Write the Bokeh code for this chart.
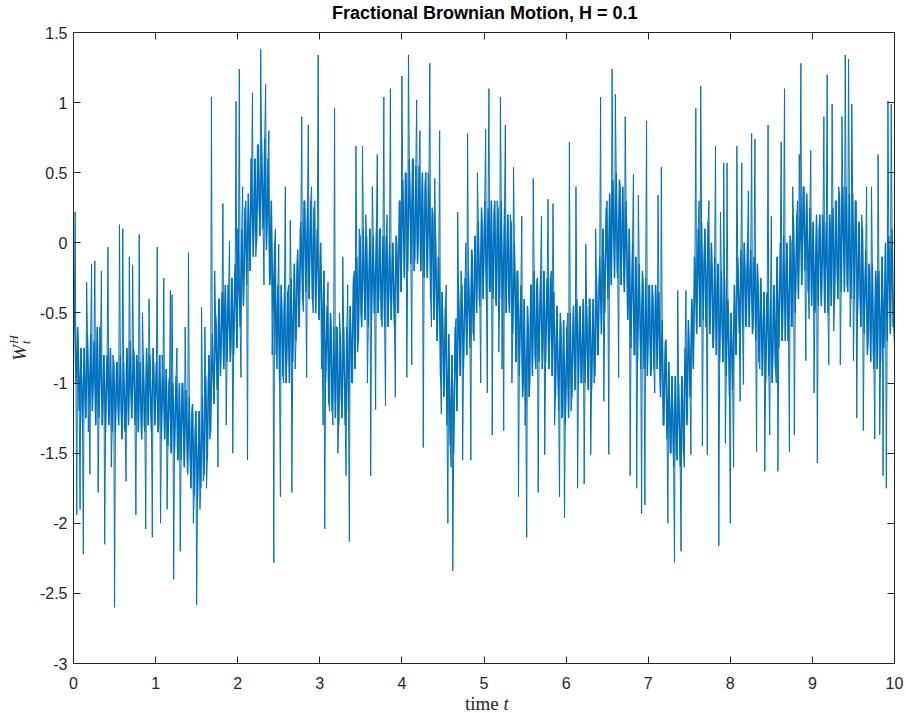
import numpy as np
from bokeh.plotting import figure
from bokeh.models import FixedTicker, LinearAxis, ColumnDataSource, Range1d, Div
from bokeh.layouts import row, column
from bokeh.embed import file_html
from bokeh.resources import INLINE

# ---------------- data ----------------
title_text = "Fractional Brownian Motion, H = 0.1"
x_label_word = "time"
x_label_var = "t"
y_label_base, y_label_sub, y_label_sup = "W", "t", "H"
x_ticks = [0, 1, 2, 3, 4, 5, 6, 7, 8, 9, 10]
x_tick_labels = ["0", "1", "2", "3", "4", "5", "6", "7", "8", "9", "10"]
y_ticks = [-3, -2.5, -2, -1.5, -1, -0.5, 0, 0.5, 1, 1.5]
y_tick_labels = ["-3", "-2.5", "-2", "-1.5", "-1", "-0.5", "0", "0.5", "1", "1.5"]

# W_t^H at t = 0, 0.02, 0.04, ... (one row per unit of time; carries the spikes)
w_t0 = [-0.25, 0.22, -1.94, -0.75, -1.9,  -1.0, -2.22, -1.1, -0.28, -1.35,
        -1.65, -0.15, -0.95, -0.13, -1.0,  -1.78, -0.6, -0.2, -1.1, -2.15,
        -0.9, -0.03, -1.2, -1.6, -0.8,     -2.6, -0.9, -1.1, 0.13, -1.2,
        0.1, -1.3, -1.7, -0.9, -0.1,       -1.1, -0.16, -0.8, -1.94, -0.9,
        0.06, -1.2, -0.5, -1.3, -2.04,     -1.0, -0.4, -1.2, -2.1, -0.9]
w_t1 = [-1.1, -0.03, -1.3, -2.0, -0.8,    -0.25, -1.2, -1.9, -1.0, -0.34,
        -0.37, -2.4, -1.1, -0.75, -1.5,    -2.2, -1.0, -1.4, -0.6, -1.3,
        -0.07, -1.5, -1.2, -2.0, -1.4,     -2.58, -1.5, -1.9, -0.46, -1.7,
        -0.6, -1.75, -1.0, -1.4, 1.04,     -0.9, -0.2, -0.6, -1.6, -0.4,
        -0.7, 0.28, -0.5, -1.3, -0.3,      0.01, -0.7, -1.5, -0.3, 1.01]
w_t2 = [0.1, 1.24, -0.96, 0.4, -0.2,      0.3, -1.55, 0.0, 0.6, 1.07,
        0.2, -0.1, 0.7, 0.3, 1.38,         0.1, -0.3, 1.13, 0.2, 0.8,
        -0.2, -0.8, -2.28, 0.1, -0.9,      -0.01, -1.81, -0.5, -1.0, 0.4,
        -0.8, -0.3, 0.16, -1.78, -0.5,     -0.9, -0.2, -0.6, 0.1, 0.9,
        -0.49, 0.3, -0.96, 0.84, 0.0,      0.4, -0.5, 0.3, -0.2, 1.34]
w_t3 = [-0.3, -0.9, -1.3, -2.04, -0.7,    -0.28, -1.2, -0.6, -1.3, 0.96,
        -0.6, -1.5, -0.5, -1.1, -0.1,      -0.9, -1.66, -0.3, -2.13, -0.7,
        -1.0, -0.2, 0.69, -0.78, 0.1,      -0.5, 0.69, -0.3, 0.2, -1.0,
        -0.2, -1.66, 0.4, -0.5, -1.19,     0.63, -0.4, 0.1, -0.6, 1.04,
        -1.16, 0.2, -0.4, 1.1, -0.2,       -0.4, -1.1, 0.0, -0.5, 0.3]
w_t4 = [1.19, 0.1, 0.5, -0.96, 1.34,      0.3, -0.87, 0.6, -0.1, 1.02,
        0.0, 0.8, 0.2, -1.46, 0.4,         -0.1, 0.5, 1.28, -0.6, 0.2,
        0.46, -0.5, -0.1, 0.8, -1.22,      -0.6, -1.0, -0.3, -2.0, -1.2,
        -1.6, -2.34, -1.0, -0.54, 0.22,    -0.6, -0.2, -1.55, -0.5, 0.0,
        0.78, -0.4, -1.55, -0.1, -0.7,     -0.2, 0.5, -0.4, -1.0, 0.1]
w_t5 = [0.0, 0.81, -1.07, 1.1, -0.3,      -1.37, 0.2, -0.4, 0.3, -0.78,
        1.04, -0.9, -1.34, 0.84, -0.1,     -0.4, 0.2, -1.0, 0.54, -0.3,
        -0.2, -1.81, -0.5, 0.19, -1.0,     -1.3, -2.1, -0.6, -1.0, -0.3,
        0.46, -0.8, -0.3, -1.78, -0.5,     0.19, -0.7, -1.51, -0.4, 0.31,
        -0.7, -0.2, 0.28, -1.3, -0.6,      -0.9, -1.81, -0.6, -1.2, -1.96]
w_t6 = [-1.0, -0.5, 0.72, -1.2, -0.7,     -0.9, 0.4, -1.75, -0.5, -1.0,
        -0.6, -1.72, -0.01, -0.9, -0.4,    -1.51, -0.6, -1.0, 0.1, -0.8,
        -0.3, 1.04, -0.2, -1.13, 0.0,      0.3, -1.51, 0.0, 1.24, 0.2,
        1.06, -0.2, -0.96, 0.4, 0.0,       -0.2, 0.9, 0.1, -0.4, -1.66,
        -0.3, 0.49, -0.8, -1.75, 0.34,     -0.5, -1.93, -0.3, -1.87, 0.87]
w_t7 = [-0.6, -0.31, -0.9, -0.4, -1.07,   -0.5, 0.34, -0.9, 0.54, -1.3,
        -0.9, -0.69, -2.0, -1.1, -1.5,     -1.2, -2.28, -1.5, -0.34, -1.3,
        -2.2, -1.0, -1.6, -0.34, -1.2,     -0.8, -1.51, -0.5, -0.1, 0.96,
        -0.2, 0.3, 1.12, -1.45, -0.1,      -0.6, -1.51, 0.3, -0.5, -0.2,
        -0.7, 0.69, -0.3, -2.16, 0.22,     -0.6, 0.57, -1.43, 0.57, -0.5]
w_t8 = [-2.0, -0.8, -1.6, -0.6, 0.69,     -0.3, -1.13, 0.57, -1.01, -0.2,
        -0.5, 0.37, -0.2, 0.78, -0.6,      0.74, -1.49, -0.3, -0.9, -0.4,
        -0.6, -1.63, -0.4, 0.84, -1.37,    0.19, -0.8, -0.4, -1.0, -1.63,
        -0.5, 0.72, -0.6, 1.1, -0.2,       -0.7, -1.49, 0.0, 0.4, -1.37,
        -0.3, 0.3, 0.63, 1.28, 0.0,        0.4, -0.84, 0.1, -0.54, 0.66]
w_t9 = [0.0, -1.07, -0.4, -1.57, 0.1,     -0.3, 0.2, 0.9, -0.2, 1.2,
        -0.87, 0.1, 0.99, -0.63, 0.3,      -0.2, 0.4, -0.87, 0.9, 0.0,
        1.34, -0.3, 1.31, -0.6, 0.99,      -0.84, 0.3, -1.25, 0.1, -0.4,
        0.2, -1.34, -0.3, 0.4, -0.7,       -0.2, 0.4, -0.8, -1.4, -0.3,
        0.63, -1.37, -0.5, -1.66, -0.6,    -1.75, 1.01, -0.4, 0.99, -0.6]
w_end = [-0.75]

# W_t^H at t = 0.01, 0.03, 0.05, ... (the dense core of the trace)
c_t0 = [-0.45, -1.0, -0.6, -1.2, -0.75,   -1.3, -0.75, -1.25, -0.65, -1.2,
        -0.65, -1.2, -0.7, -1.3, -0.6,     -1.25, -0.7, -1.3, -0.8, -1.35,
        -0.8, -1.3, -0.75, -1.35, -0.85,   -1.35, -0.85, -1.3, -0.8, -1.4,
        -0.85, -1.35, -0.75, -1.3, -0.7,   -1.25, -0.75, -1.3, -0.8, -1.35,
        -0.85, -1.4, -0.8, -1.35, -0.75,   -1.3, -0.8, -1.35, -0.75, -1.3]
c_t1 = [-0.85, -1.35, -0.8, -1.4, -0.9,   -1.4, -0.9, -1.45, -0.95, -1.5,
        -1.0, -1.5, -0.95, -1.55, -1.0,    -1.55, -1.0, -1.6, -1.05, -1.65,
        -1.1, -1.75, -1.15, -1.8, -1.2,    -1.85, -1.2, -1.75, -1.1, -1.65,
        -0.95, -1.55, -0.8, -1.35, -0.65,  -1.15, -0.5, -1.05, -0.4, -0.95,
        -0.35, -0.9, -0.3, -0.85, -0.35,   -0.85, -0.25, -0.8, -0.15, -0.75]
c_t2 = [-0.05, -0.6, 0.1, -0.45, 0.25,    -0.3, 0.35, -0.2, 0.5, -0.1,
        0.6, 0.0, 0.7, 0.05, 0.75,         0.1, 0.75, -0.05, 0.6, -0.3,
        0.3, -0.55, 0.0, -0.8, -0.3,       -1.0, -0.3, -0.95, -0.35, -1.0,
        -0.35, -1.0, -0.25, -0.85, -0.15,  -0.7, -0.05, -0.6, 0.15, -0.4,
        0.3, -0.35, 0.25, -0.4, 0.3,       -0.4, 0.25, -0.5, 0.1, -0.55]
c_t3 = [0.0, -0.75, -0.2, -1.0, -0.45,    -1.15, -0.5, -1.2, -0.6, -1.25,
        -0.6, -1.3, -0.65, -1.25, -0.6,    -1.3, -0.6, -1.2, -0.45, -1.0,
        -0.25, -0.9, -0.1, -0.7, 0.05,     -0.6, 0.1, -0.55, 0.05, -0.6,
        0.1, -0.55, 0.05, -0.5, 0.1,       -0.5, 0.1, -0.55, 0.05, -0.6,
        0.05, -0.6, 0.0, -0.55, 0.0,       -0.6, 0.05, -0.5, 0.3, -0.35]
c_t4 = [0.45, -0.25, 0.5, -0.2, 0.6,      -0.15, 0.6, -0.2, 0.55, -0.15,
        0.55, -0.2, 0.5, -0.25, 0.5,       -0.25, 0.45, -0.4, 0.25, -0.55,
        0.05, -0.7, -0.1, -0.95, -0.35,    -1.1, -0.45, -1.3, -0.65, -1.45,
        -0.8, -1.5, -0.6, -1.2, -0.35,     -0.95, -0.3, -0.9, -0.25, -0.8,
        -0.2, -0.75, -0.05, -0.65, 0.05,   -0.5, 0.15, -0.45, 0.25, -0.4]
c_t5 = [0.3, -0.4, 0.25, -0.35, 0.3,      -0.4, 0.3, -0.45, 0.25, -0.4,
        0.3, -0.45, 0.25, -0.5, 0.2,       -0.5, 0.15, -0.65, 0.0, -0.85,
        -0.2, -0.95, -0.3, -1.1, -0.4,     -1.2, -0.45, -1.1, -0.3, -0.95,
        -0.2, -0.9, -0.25, -0.85, -0.2,    -0.9, -0.2, -0.85, -0.25, -0.9,
        -0.25, -0.95, -0.35, -1.1, -0.45,  -1.2, -0.5, -1.25, -0.55, -1.3]
c_t6 = [-0.6, -1.25, -0.5, -1.1, -0.45,   -1.05, -0.4, -1.0, -0.45, -1.0,
        -0.4, -1.0, -0.45, -1.05, -0.4,    -1.05, -0.4, -0.95, -0.25, -0.8,
        -0.1, -0.65, 0.1, -0.5, 0.25,      -0.4, 0.35, -0.3, 0.45, -0.25,
        0.5, -0.25, 0.45, -0.3, 0.4,       -0.35, 0.3, -0.55, 0.1, -0.75,
        0.0, -0.8, -0.1, -0.85, -0.15,     -0.9, -0.2, -0.9, -0.25, -0.95]
c_t7 = [-0.3, -0.95, -0.3, -0.9, -0.3,    -0.9, -0.35, -1.1, -0.55, -1.3,
        -0.7, -1.4, -0.85, -1.5, -0.95,    -1.6, -0.95, -1.55, -1.0, -1.6,
        -0.95, -1.5, -0.75, -1.3, -0.55,   -1.1, -0.4, -0.9, -0.1, -0.65,
        0.1, -0.6, 0.15, -0.55, 0.1,       -0.55, 0.15, -0.65, 0.0, -0.75,
        -0.1, -0.8, -0.15, -0.85, -0.2,    -0.85, -0.25, -0.95, -0.4, -1.1]
c_t8 = [-0.5, -1.05, -0.3, -0.8, -0.1,    -0.65, -0.05, -0.6, 0.0, -0.6,
        0.0, -0.6, -0.05, -0.65, -0.1,     -0.7, -0.15, -0.85, -0.25, -0.95,
        -0.35, -1.0, -0.35, -0.95, -0.4,   -1.0, -0.3, -0.9, -0.1, -0.75,
        0.0, -0.7, 0.05, -0.7, 0.0,        -0.7, 0.05, -0.6, 0.15, -0.5,
        0.2, -0.4, 0.3, -0.3, 0.4,         -0.2, 0.35, -0.35, 0.25, -0.45]
c_t9 = [0.15, -0.5, 0.2, -0.45, 0.2,      -0.45, 0.2, -0.5, 0.15, -0.5,
        0.2, -0.45, 0.25, -0.4, 0.3,       -0.4, 0.35, -0.35, 0.4, -0.35,
        0.4, -0.35, 0.35, -0.4, 0.35,      -0.4, 0.3, -0.5, 0.15, -0.6,
        0.1, -0.65, -0.05, -0.8, -0.15,    -0.85, -0.15, -0.9, -0.2, -0.9,
        -0.2, -0.85, -0.1, -0.75, 0.0,     -0.7, 0.05, -0.65, 0.1, -0.6]

# ---------------- build ----------------
w_even = w_t0 + w_t1 + w_t2 + w_t3 + w_t4 + w_t5 + w_t6 + w_t7 + w_t8 + w_t9 + w_end
w_odd = c_t0 + c_t1 + c_t2 + c_t3 + c_t4 + c_t5 + c_t6 + c_t7 + c_t8 + c_t9
t_even = np.linspace(x_ticks[0], x_ticks[-1], len(w_even))
t_odd = 0.5 * (t_even[:-1] + t_even[1:])
t_all = np.concatenate([t_even, t_odd])
w_all = np.concatenate([w_even, w_odd])
order = np.argsort(t_all, kind="stable")
src = ColumnDataSource(dict(t=t_all[order], w=w_all[order]))
core_src = ColumnDataSource(dict(t=t_odd, w=w_odd))

AX = "#262626"
BLUE = "#0072BD"
SANS = "Liberation Sans"
SERIF = "Liberation Serif"
YDIV_W = 36
XDIV_H = 17
TDIV_H = 24
FRAME_TOP = 32

p = figure(width=906 - YDIV_W, height=713 - XDIV_H - TDIV_H, output_backend="svg",
           toolbar_location=None,
           x_range=Range1d(x_ticks[0], x_ticks[-1]), y_range=Range1d(y_ticks[0], y_ticks[-1]),
           min_border_left=73 - YDIV_W, min_border_right=12, min_border_top=FRAME_TOP - TDIV_H,
           min_border_bottom=713 - XDIV_H - 663, background_fill_color="white",
           border_fill_color="white", margin=0)
p.xgrid.visible = False
p.ygrid.visible = False
p.outline_line_color = AX
p.outline_line_width = 1

# the dense core where the very many overlapping segments merge
p.line("t", "w", source=core_src, line_color=BLUE, line_width=1.4)
# the full trace with its spikes
p.line("t", "w", source=src, line_color=BLUE, line_width=1.0)


def style_axis(ax, ticks, labels, show_labels=True):
    ax.ticker = FixedTicker(ticks=ticks)
    ax.major_label_overrides = {tk: lb for tk, lb in zip(ticks, labels)}
    ax.major_tick_in = 7
    ax.major_tick_out = 0
    ax.major_tick_line_color = AX
    ax.minor_tick_line_color = None
    ax.axis_line_color = AX
    ax.major_label_text_font = SANS
    ax.major_label_text_color = AX
    if show_labels:
        ax.major_label_text_font_size = "16px"
    else:
        ax.major_label_text_font_size = "0px"
        ax.major_label_standoff = 0


style_axis(p.xaxis[0], x_ticks, x_tick_labels)
p.xaxis[0].major_label_standoff = 13
style_axis(p.yaxis[0], y_ticks, y_tick_labels)
p.yaxis[0].major_label_standoff = 6

ax_top = LinearAxis()
style_axis(ax_top, x_ticks, x_tick_labels, show_labels=False)
p.add_layout(ax_top, "above")
ax_right = LinearAxis()
style_axis(ax_right, y_ticks, y_tick_labels, show_labels=False)
p.add_layout(ax_right, "right")

# title as HTML text above the figure (starts where the reference title starts)
tdiv = Div(width=906 - YDIV_W, height=TDIV_H, margin=0,
           text=(f'<div style="padding-left:{332 - YDIV_W}px; padding-top:3px; '
                 f'font-family:\'{SANS}\'; font-size:18px; font-weight:bold; '
                 f'line-height:20px; color:black; white-space:nowrap;">{title_text}</div>'))
# axis labels as HTML text (upright "time", italic variables)
xdiv = Div(width=906 - YDIV_W, height=XDIV_H, margin=0,
           text=(f'<div style="padding-left:{465 - YDIV_W}px; font-family:\'{SERIF}\'; '
                 f'font-size:19px; line-height:{XDIV_H - 1}px; color:{AX}; white-space:nowrap;">'
                 f'{x_label_word} <i>{x_label_var}</i></div>'))
ydiv = Div(width=YDIV_W, height=713, margin=0,
           text=(f'<div style="position:relative; width:{YDIV_W}px; height:713px;">'
                 f'<div style="position:absolute; left:20px; top:348px; '
                 f'transform:translate(-50%,-50%) rotate(-90deg); white-space:nowrap; '
                 f'font-family:\'{SERIF}\'; font-style:italic; color:{AX}; line-height:1;">'
                 f'<span style="font-size:19px;">{y_label_base}</span>'
                 f'<span style="display:inline-block; font-size:12px; line-height:12px; '
                 f'vertical-align:-4px; margin-left:1px;">{y_label_sup}<br>{y_label_sub}</span>'
                 f'</div></div>'))

layout = row(ydiv, column(tdiv, p, xdiv, spacing=0, margin=0), spacing=0, margin=0)

open("out.html", "w").write(file_html(layout, INLINE))
